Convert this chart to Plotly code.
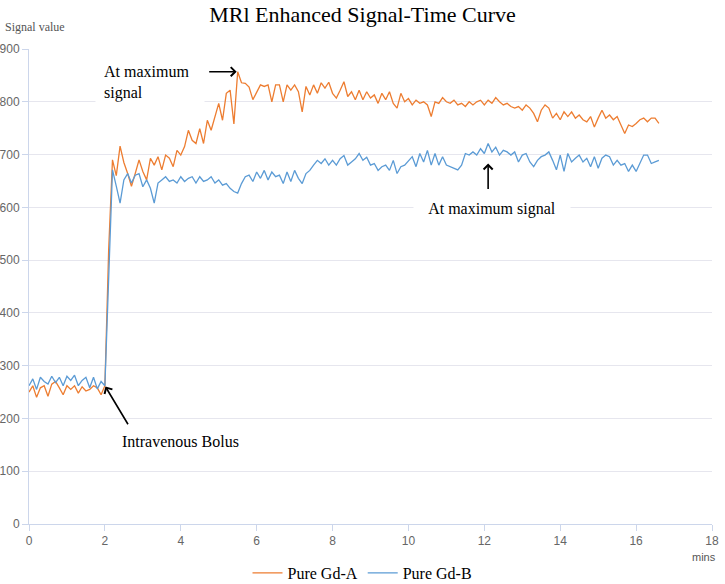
import plotly.graph_objects as go

# time step between samples (minutes)
t_start = 0.0
t_step = 0.1

gd_a = [
    250, 262, 240, 258, 262, 242, 265, 270, 258, 245,
    262, 255, 262, 248, 260, 252, 255, 262, 258, 245,
    262, 520, 690, 660, 716, 685, 664, 640, 664, 690,
    668, 652, 693, 680, 696, 671, 699, 693, 677, 708,
    699, 715, 746, 727, 721, 749, 721, 765, 746, 772,
    797, 765, 816, 822, 758, 857, 836, 835, 828, 804,
    819, 832, 829, 832, 800, 832, 832, 800, 832, 822,
    832, 819, 781, 829, 813, 832, 816, 836, 826, 837,
    816, 807, 822, 838, 810, 819, 804, 822, 804, 819,
    807, 813, 797, 816, 804, 819, 797, 788, 816, 800,
    806, 794, 803, 797, 800, 794, 772, 800, 797, 808,
    800, 797, 803, 794, 797, 791, 800, 794, 800, 803,
    794, 803, 797, 808, 800, 794, 797, 791, 788, 791,
    784, 794, 788, 778, 762, 784, 794, 788, 769, 778,
    766, 781, 772, 781, 769, 775, 766, 762, 772, 752,
    769, 784, 769, 775, 766, 772, 756, 740, 756, 753,
    759, 766, 769, 762, 769, 769, 759,
]

gd_b = [
    262, 275, 255, 278, 270, 265, 280, 268, 278, 262,
    280, 272, 282, 262, 272, 278, 258, 278, 256, 270,
    262, 470, 671, 640, 608, 652, 664, 646, 661, 664,
    639, 652, 636, 608, 646, 652, 658, 649, 652, 646,
    658, 649, 655, 658, 646, 658, 649, 652, 658, 646,
    652, 642, 645, 636, 630, 627, 645, 658, 661, 649,
    667, 655, 670, 652, 667, 658, 661, 645, 667, 649,
    670, 655, 645, 664, 670, 680, 689, 683, 692, 680,
    689, 680, 692, 698, 680, 686, 692, 702, 689, 695,
    680, 683, 670, 677, 680, 670, 689, 664, 677, 680,
    689, 696, 677, 702, 686, 708, 680, 702, 680, 696,
    680, 677, 674, 671, 680, 702, 699, 705, 699, 711,
    702, 721, 705, 714, 699, 708, 705, 699, 705, 686,
    699, 702, 686, 677, 689, 696, 699, 705, 689, 671,
    699, 668, 702, 686, 693, 699, 686, 693, 677, 696,
    674, 693, 699, 696, 680, 689, 680, 683, 668, 680,
    668, 683, 699, 699, 683, 686, 689,
]

series_names = ["Pure Gd-A", "Pure Gd-B"]
x_ticks = [0, 2, 4, 6, 8, 10, 12, 14, 16, 18]
y_ticks = [0, 100, 200, 300, 400, 500, 600, 700, 800, 900]

SERIF = "Liberation Serif, Times New Roman, serif"
SANS = "Liberation Sans, Arial, sans-serif"

fig = go.Figure()
fig.add_trace(go.Scatter(y=gd_a, x0=t_start, dx=t_step, mode="lines", name=series_names[0],
                         line=dict(color="#ed7d31", width=1.3)))
fig.add_trace(go.Scatter(y=gd_b, x0=t_start, dx=t_step, mode="lines", name=series_names[1],
                         line=dict(color="#5b9bd5", width=1.3)))

ia = max(range(len(gd_a)), key=lambda i: gd_a[i])
ib = max(range(len(gd_b)), key=lambda i: gd_b[i])
ibolus = 20


def t_of(i):
    return t_start + i * t_step


annotations = [
    # arrows
    dict(x=t_of(ia), y=gd_a[ia], xref="x", yref="y", text="", showarrow=True,
         ax=-30, ay=0, arrowhead=4, arrowsize=1.1, arrowwidth=1.6, arrowcolor="black", standoff=1),
    dict(x=t_of(ib), y=gd_b[ib], xref="x", yref="y", text="", showarrow=True,
         ax=0, ay=47, arrowhead=4, arrowsize=1.1, arrowwidth=1.6, arrowcolor="black", standoff=20),
    dict(x=t_of(ibolus), y=gd_a[ibolus], xref="x", yref="y", text="", showarrow=True,
         ax=24, ay=40, arrowhead=4, arrowsize=1.1, arrowwidth=1.6, arrowcolor="black", standoff=1),
    # texts
    dict(x=1.75, y=837, xref="x", yref="y", text="At maximum<br>signal", showarrow=False,
         xanchor="left", yanchor="middle", align="left", width=92, borderpad=8,
         bgcolor="white", font=dict(family=SERIF, size=16, color="black")),
    dict(x=12.2, y=597, xref="x", yref="y", text="At maximum signal", showarrow=False,
         xanchor="center", yanchor="middle", width=152, borderpad=2,
         bgcolor="white", font=dict(family=SERIF, size=16, color="black")),
    dict(x=3.98, y=157, xref="x", yref="y", text="Intravenous Bolus", showarrow=False,
         xanchor="center", yanchor="middle",
         font=dict(family=SERIF, size=16, color="black")),
    # axis titles
    dict(x=-26 / 683, y=(524 - 27) / 475, xref="paper", yref="paper",
         text="Signal value", showarrow=False, xanchor="left", yanchor="middle",
         font=dict(family=SERIF, size=12, color="#555555")),
    dict(x=1.0088, y=-0.0695, xref="paper", yref="paper", text="mins", showarrow=False,
         xanchor="right", yanchor="middle", font=dict(family=SANS, size=11, color="#555555")),
]

fig.update_layout(
    width=725, height=584,
    margin=dict(l=29, r=13, t=49, b=60, autoexpand=False),
    paper_bgcolor="white", plot_bgcolor="white",
    title=dict(text="MRl Enhanced Signal-Time Curve", x=0.5, xanchor="center",
               y=1 - 14 / 584, yanchor="middle",
               font=dict(family=SERIF, size=22, color="black")),
    xaxis=dict(range=[0, 18], tickvals=x_ticks, showgrid=False, zeroline=False,
               showline=True, linecolor="#ccd6eb", linewidth=1, automargin=False,
               ticks="outside", ticklen=6, tickcolor="#ccd6eb",
               tickfont=dict(family=SANS, size=12, color="#666666")),
    yaxis=dict(range=[0, 900], tickvals=y_ticks, showgrid=True, gridcolor="#e6e6ee",
               zeroline=False, showline=True, linecolor="#ccd6eb", linewidth=1, automargin=False,
               ticks="outside", ticklen=6, tickcolor="#ccd6eb",
               tickfont=dict(family=SANS, size=12, color="#666666")),
    legend=dict(orientation="h", x=0.5, xanchor="center", xref="container",
                y=1 - 573 / 584, yanchor="middle", yref="container",
                font=dict(family=SERIF, size=16, color="black"), bgcolor="rgba(0,0,0,0)"),
    annotations=annotations,
    showlegend=True,
)

fig.write_html("out.html")
